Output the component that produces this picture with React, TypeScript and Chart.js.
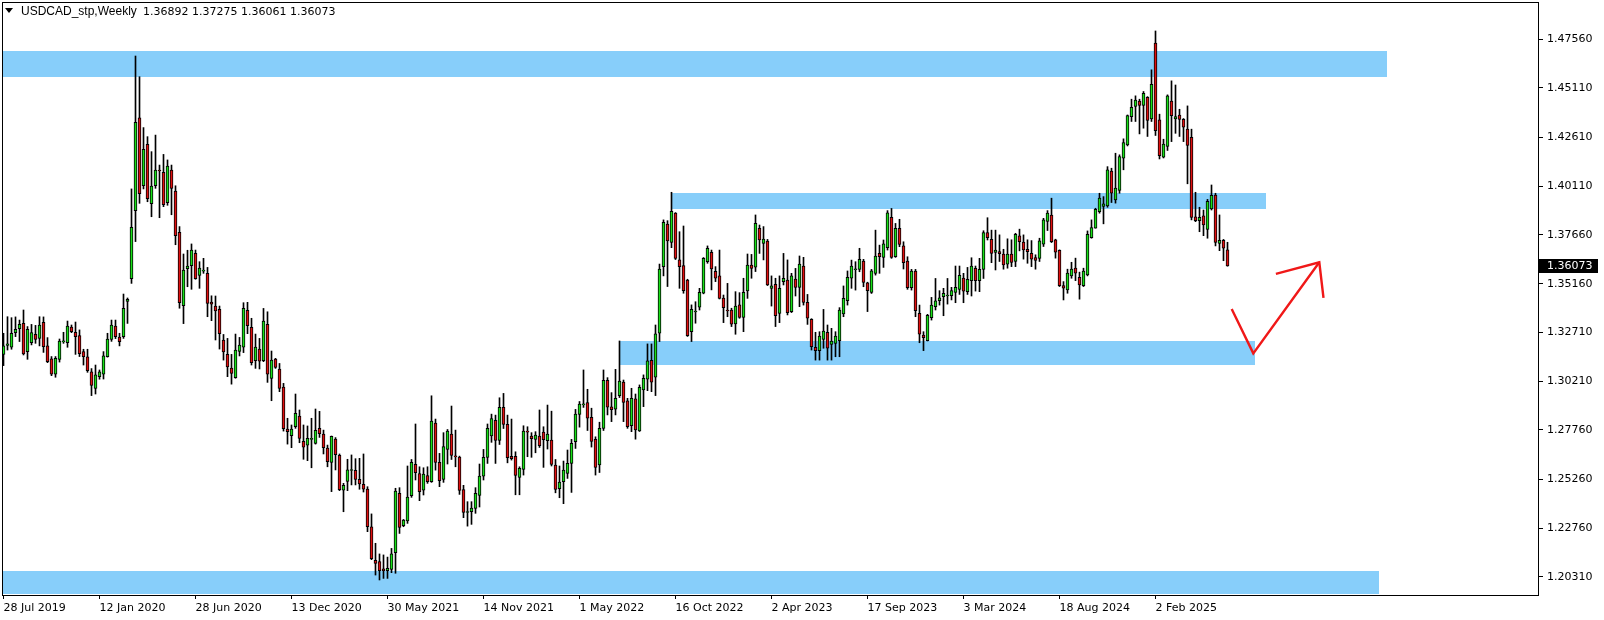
import React, { useEffect, useRef } from "react";
import { Chart, registerables } from "chart.js";

Chart.register(...registerables);

const CANVAS_W = 1604;
const CANVAS_H = 620;

// Weekly bars start at 28 Jul 2019; tick labels every 24 weeks
const xTickIndex = [0, 24, 48, 72, 96, 120, 144, 168, 192, 216, 240, 264, 288];
const xTickLabels = [
  "28 Jul 2019", "12 Jan 2020", "28 Jun 2020", "13 Dec 2020", "30 May 2021",
  "14 Nov 2021", "1 May 2022", "16 Oct 2022", "2 Apr 2023", "17 Sep 2023",
  "3 Mar 2024", "18 Aug 2024", "2 Feb 2025",
];
const yTickValues = [
  1.2031, 1.2276, 1.2526, 1.2776, 1.3021, 1.3271,
  1.3516, 1.3766, 1.4011, 1.4261, 1.4511, 1.4756,
];

const opens = [
  1.3159,1.3205,1.3195,1.3269,1.3289,1.3316,1.3173,1.3218,1.3261,1.3240,
  1.3322,1.3202,1.3136,1.3058,1.3134,1.3222,1.3218,1.3298,1.3271,1.3254,
  1.3173,1.3146,1.3070,1.2987,1.3046,1.3058,1.3148,1.3235,1.3303,1.3247,
  1.3249,1.3428,1.3543,1.3888,1.4358,1.4014,1.4224,1.3923,1.4014,1.4093,
  1.4082,1.3928,1.4094,1.3987,1.3778,1.3406,1.3594,1.3609,1.3671,1.3560,
  1.3581,1.3570,1.3424,1.3404,1.3387,1.3232,1.3159,1.3090,1.3041,1.3174,
  1.3195,1.3382,1.3296,1.3127,1.3186,1.3127,1.3311,1.3037,1.3135,1.3085,
  1.2993,1.2780,1.2747,1.2792,1.2846,1.2718,1.2698,1.2728,1.2708,1.2784,
  1.2755,1.2684,1.2611,1.2730,1.2647,1.2470,1.2515,1.2570,1.2571,1.2525,
  1.2500,1.2476,1.2284,1.2115,1.2108,1.2071,1.2062,1.2069,1.2153,1.2454,
  1.2290,1.2315,1.2442,1.2601,1.2555,1.2471,1.2545,1.2513,1.2811,1.2611,
  1.2525,1.2677,1.2755,1.2642,1.2638,1.2474,1.2357,1.2361,1.2378,1.2444,
  1.2542,1.2637,1.2746,1.2824,1.2723,1.2890,1.2804,1.2642,1.2642,1.2535,
  1.2576,1.2769,1.2745,1.2728,1.2745,1.2765,1.2721,1.2724,1.2598,1.2478,
  1.2513,1.2555,1.2606,1.2716,1.2855,1.2903,1.2914,1.2840,1.2728,1.2598,
  1.2784,1.3028,1.2893,1.2881,1.2950,1.3019,1.2923,1.2798,1.2933,1.2771,
  1.2979,1.3033,1.3129,1.3043,1.3266,1.3604,1.3820,1.3727,1.3876,1.3638,
  1.3609,1.3536,1.3274,1.3374,1.3398,1.3469,1.3629,1.3677,1.3580,1.3557,
  1.3445,1.3383,1.3384,1.3313,1.3410,1.3347,1.3481,1.3612,1.3601,1.3798,
  1.3722,1.3734,1.3494,1.3514,1.3367,1.3528,1.3536,1.3376,1.3541,1.3499,
  1.3607,1.3423,1.3337,1.3195,1.3178,1.3235,1.3271,1.3210,1.3215,1.3228,
  1.3364,1.3431,1.3545,1.3588,1.3590,1.3632,1.3522,1.3473,1.3570,1.3671,
  1.3651,1.3700,1.3854,1.3654,1.3798,1.3710,1.3632,1.3497,1.3582,1.3367,
  1.3257,1.3228,1.3345,1.3401,1.3431,1.3451,1.3455,1.3457,1.3473,1.3489,
  1.3546,1.3477,1.3533,1.3595,1.3533,1.3590,1.3776,1.3742,1.3676,1.3680,
  1.3667,1.3616,1.3667,1.3630,1.3760,1.3728,1.3692,1.3672,1.3650,1.3645,
  1.3718,1.3833,1.3866,1.3740,1.3686,1.3508,1.3486,1.3557,1.3596,1.3550,
  1.3508,1.3562,1.3751,1.3799,1.3883,1.3909,1.3912,1.4089,1.3942,1.3990,
  1.4154,1.4221,1.4365,1.4416,1.4444,1.4421,1.4463,1.4353,1.4737,1.4348,
  1.4159,1.4213,1.4444,1.4353,1.4373,1.4351,1.4301,1.4260,1.3857,1.3837,
  1.3862,1.3793,1.3896,1.3967,1.3722,1.3737,1.36892,
];

const highs = [
  1.3266,1.3350,1.3345,1.3349,1.3333,1.3384,1.3300,1.3311,1.3306,1.3350,
  1.3349,1.3244,1.3148,1.3148,1.3237,1.3271,1.3328,1.3308,1.3323,1.3283,
  1.3185,1.3185,1.3087,1.3105,1.3080,1.3173,1.3266,1.3333,1.3333,1.3266,
  1.3465,1.3445,1.3998,1.4672,1.4567,1.4309,1.4263,1.4187,1.4271,1.4119,
  1.4173,1.4145,1.4119,1.4014,1.3807,1.3668,1.3687,1.3719,1.3688,1.3629,
  1.3646,1.3600,1.3456,1.3455,1.3404,1.3260,1.3240,1.3159,1.3262,1.3245,
  1.3421,1.3423,1.3342,1.3262,1.3240,1.3392,1.3375,1.3176,1.3139,1.3113,
  1.3012,1.2835,1.2801,1.2958,1.2877,1.2801,1.2796,1.2835,1.2882,1.2870,
  1.2775,1.2699,1.2745,1.2737,1.2654,1.2505,1.2627,1.2649,1.2630,1.2632,
  1.2654,1.2488,1.2350,1.2201,1.2147,1.2142,1.2131,1.2175,1.2480,1.2483,
  1.2322,1.2593,1.2626,1.2806,1.2589,1.2584,1.2589,1.2949,1.2831,1.2657,
  1.2762,1.2778,1.2897,1.2775,1.2643,1.2495,1.2412,1.2412,1.2483,1.2603,
  1.2677,1.2806,1.2856,1.2851,1.2939,1.2961,1.2851,1.2831,1.2665,1.2589,
  1.2797,1.2792,1.2762,1.2767,1.2877,1.2792,1.2902,1.2871,1.2626,1.2593,
  1.2618,1.2674,1.2728,1.2880,1.2920,1.3080,1.2982,1.2886,1.2741,1.2815,
  1.3080,1.3041,1.2965,1.3083,1.3227,1.3029,1.2936,1.2987,1.2958,1.3004,
  1.3055,1.3212,1.3212,1.3308,1.3617,1.3841,1.3837,1.3981,1.3878,1.3781,
  1.3810,1.3540,1.3410,1.3426,1.3494,1.3650,1.3709,1.3688,1.3604,1.3688,
  1.3460,1.3519,1.3393,1.3477,1.3472,1.3545,1.3668,1.3666,1.3866,1.3815,
  1.3807,1.3742,1.3557,1.3545,1.3557,1.3671,1.3638,1.3570,1.3595,1.3658,
  1.3651,1.3463,1.3340,1.3271,1.3274,1.3387,1.3308,1.3291,1.3274,1.3396,
  1.3506,1.3582,1.3637,1.3629,1.3697,1.3641,1.3525,1.3590,1.3789,1.3713,
  1.3739,1.3888,1.3899,1.3823,1.3844,1.3730,1.3654,1.3590,1.3590,1.3409,
  1.3274,1.3362,1.3448,1.3544,1.3482,1.3494,1.3544,1.3499,1.3607,1.3607,
  1.3570,1.3600,1.3649,1.3607,1.3646,1.3786,1.3852,1.3789,1.3789,1.3765,
  1.3692,1.3745,1.3740,1.3773,1.3794,1.3765,1.3740,1.3736,1.3664,1.3748,
  1.3849,1.3888,1.3951,1.3743,1.3689,1.3528,1.3591,1.3626,1.3647,1.3576,
  1.3596,1.3785,1.3841,1.3900,1.3976,1.3959,1.4111,1.4103,1.4179,1.4171,
  1.4252,1.4373,1.4453,1.4470,1.4453,1.4492,1.4466,1.4602,1.4799,1.4377,
  1.4250,1.4475,1.4546,1.4525,1.4402,1.4355,1.4419,1.4301,1.3981,1.3905,
  1.3891,1.3945,1.4018,1.3976,1.3866,1.3742,1.37275,
];

const lows = [
  1.3102,1.3181,1.3185,1.3249,1.3224,1.3156,1.3134,1.3207,1.3215,1.3202,
  1.3169,1.3117,1.3051,1.3043,1.3120,1.3215,1.3195,1.3269,1.3159,1.3148,
  1.3105,1.3068,1.2950,1.2958,1.3033,1.3034,1.3145,1.3225,1.3239,1.3202,
  1.3240,1.3316,1.3519,1.3731,1.3925,1.3998,1.3933,1.3857,1.4001,1.3852,
  1.3908,1.3915,1.3867,1.3715,1.3393,1.3315,1.3502,1.3489,1.3540,1.3494,
  1.3570,1.3350,1.3330,1.3232,1.3186,1.3130,1.3046,1.3008,1.3038,1.3151,
  1.3168,1.3264,1.3105,1.3088,1.3085,1.3122,1.3017,1.2924,1.3088,1.2970,
  1.2770,1.2704,1.2686,1.2784,1.2711,1.2627,1.2620,1.2584,1.2704,1.2738,
  1.2654,1.2589,1.2463,1.2573,1.2468,1.2361,1.2468,1.2497,1.2497,1.2475,
  1.2461,1.2260,1.2118,1.2040,1.2015,1.2023,1.2023,1.2052,1.2049,1.2251,
  1.2285,1.2302,1.2434,1.2522,1.2417,1.2446,1.2505,1.2510,1.2572,1.2488,
  1.2510,1.2603,1.2626,1.2589,1.2449,1.2331,1.2288,1.2297,1.2353,1.2385,
  1.2522,1.2606,1.2713,1.2606,1.2702,1.2783,1.2609,1.2623,1.2447,1.2447,
  1.2547,1.2640,1.2637,1.2660,1.2687,1.2586,1.2679,1.2593,1.2457,1.2432,
  1.2402,1.2530,1.2459,1.2682,1.2790,1.2890,1.2773,1.2689,1.2547,1.2560,
  1.2773,1.2852,1.2818,1.2852,1.2940,1.2818,1.2784,1.2767,1.2729,1.2768,
  1.2894,1.2975,1.2970,1.2950,1.3224,1.3557,1.3503,1.3700,1.3640,1.3494,
  1.3469,1.3250,1.3224,1.3317,1.3384,1.3466,1.3621,1.3486,1.3528,1.3440,
  1.3320,1.3350,1.3300,1.3261,1.3342,1.3274,1.3443,1.3545,1.3579,1.3671,
  1.3638,1.3508,1.3404,1.3300,1.3320,1.3511,1.3359,1.3371,1.3455,1.3401,
  1.3409,1.3311,1.3181,1.3130,1.3130,1.3190,1.3130,1.3130,1.3147,1.3147,
  1.3350,1.3409,1.3494,1.3485,1.3578,1.3502,1.3376,1.3468,1.3561,1.3570,
  1.3600,1.3688,1.3646,1.3651,1.3705,1.3592,1.3489,1.3485,1.3350,1.3218,
  1.3178,1.3227,1.3333,1.3384,1.3409,1.3355,1.3414,1.3435,1.3421,1.3463,
  1.3421,1.3463,1.3455,1.3480,1.3477,1.3544,1.3739,1.3624,1.3587,1.3630,
  1.3591,1.3596,1.3604,1.3604,1.3684,1.3642,1.3621,1.3604,1.3591,1.3630,
  1.3706,1.3787,1.3726,1.3647,1.3503,1.3435,1.3469,1.3545,1.3533,1.3439,
  1.3503,1.3557,1.3748,1.3799,1.3875,1.3821,1.3905,1.3929,1.3926,1.3976,
  1.4095,1.4216,1.4340,1.4340,1.4277,1.4306,1.4264,1.4340,1.4269,1.4150,
  1.4155,1.4193,1.4238,1.4280,1.4264,1.4238,1.4024,1.3841,1.3832,1.3781,
  1.3761,1.3748,1.3891,1.3709,1.3685,1.3634,1.36061,
];

const closes = [
  1.3202,1.3212,1.3266,1.3286,1.3311,1.3161,1.3286,1.3269,1.3235,1.3308,
  1.3198,1.3122,1.3058,1.3139,1.3227,1.3226,1.3303,1.3274,1.3249,1.3163,
  1.3148,1.3077,1.3002,1.3055,1.3070,1.3151,1.3237,1.3308,1.3249,1.3224,
  1.3393,1.3438,1.3803,1.4336,1.3974,1.4199,1.3949,1.4013,1.4094,1.4089,
  1.3918,1.4114,1.4000,1.3761,1.3421,1.3587,1.3607,1.3688,1.3543,1.3597,
  1.3584,1.3418,1.3413,1.3380,1.3264,1.3172,1.3096,1.3063,1.3181,1.3206,
  1.3392,1.3304,1.3117,1.3196,1.3125,1.3328,1.3058,1.3130,1.3093,1.2987,
  1.2782,1.2767,1.2780,1.2860,1.2733,1.2688,1.2733,1.2731,1.2774,1.2757,
  1.2686,1.2615,1.2743,1.2650,1.2473,1.2495,1.2573,1.2572,1.2525,1.2502,
  1.2475,1.2285,1.2123,1.2099,1.2062,1.2062,1.2074,1.2147,1.2466,1.2282,
  1.2319,1.2435,1.2611,1.2559,1.2463,1.2552,1.2513,1.2821,1.2611,1.2518,
  1.2692,1.2770,1.2647,1.2639,1.2469,1.2358,1.2359,1.2380,1.2454,1.2542,
  1.2637,1.2784,1.2834,1.2723,1.2890,1.2804,1.2635,1.2630,1.2545,1.2581,
  1.2770,1.2765,1.2731,1.2750,1.2696,1.2726,1.2755,1.2601,1.2474,1.2511,
  1.2572,1.2606,1.2708,1.2856,1.2907,1.2906,1.2835,1.2717,1.2586,1.2784,
  1.3028,1.2891,1.2879,1.2936,1.3024,1.2916,1.2793,1.2936,1.2776,1.2992,
  1.3038,1.3126,1.3018,1.3263,1.3592,1.3829,1.3734,1.3884,1.3646,1.3604,
  1.3482,1.3254,1.3388,1.3378,1.3474,1.3646,1.3697,1.3592,1.3545,1.3443,
  1.3396,1.3379,1.3312,1.3404,1.3347,1.3474,1.3612,1.3595,1.3824,1.3739,
  1.3744,1.3511,1.3506,1.3355,1.3494,1.3545,1.3371,1.3557,1.3499,1.3617,
  1.3423,1.3342,1.3198,1.3178,1.3252,1.3277,1.3190,1.3226,1.3252,1.3384,
  1.3443,1.3550,1.3607,1.3591,1.3641,1.3524,1.3482,1.3583,1.3658,1.3654,
  1.3719,1.3877,1.3651,1.3798,1.3717,1.3624,1.3497,1.3582,1.3381,1.3262,
  1.3244,1.3357,1.3409,1.3430,1.3446,1.3468,1.3459,1.3482,1.3499,1.3560,
  1.3480,1.3539,1.3607,1.3533,1.3590,1.3776,1.3751,1.3671,1.3688,1.3670,
  1.3613,1.3667,1.3625,1.3768,1.3731,1.3689,1.3680,1.3642,1.3635,1.3735,
  1.3841,1.3875,1.3731,1.3677,1.3508,1.3495,1.3571,1.3591,1.3571,1.3511,
  1.3582,1.3768,1.3802,1.3895,1.3951,1.3922,1.4095,1.3976,1.4002,1.4162,
  1.4233,1.4370,1.4412,1.4449,1.4421,1.4483,1.4345,1.4529,1.4294,1.4167,
  1.4225,1.4470,1.4370,1.4365,1.4351,1.4311,1.4218,1.3853,1.3837,1.3854,
  1.3815,1.3935,1.3966,1.3727,1.3737,1.3697,1.36073,
];

// Support / resistance rectangles (bar index range, price range)
const zoneStart = [-2, 167.1, 154, -2];
const zoneEnd = [345.9, 315.7, 312.8, 343.9];
const zoneTop = [1.4697, 1.3977, 1.3227, 1.206];
const zoneBottom = [1.4567, 1.3896, 1.3105, 1.1944];

// Hand-drawn red arrow (bar index, price)
const arrowIdx = [307.05, 312.45, 328.95];
const arrowPrice = [1.3389, 1.3164, 1.3626];
const barbIdx = [318.1, 330.0];
const barbPrice = [1.3567, 1.3446];

const symbolText = "USDCAD_stp,Weekly";

const BULL = "#18E018";
const BEAR = "#E01010";
const ZONE = "#87CEFA";
const FONT_FAMILY = '"DejaVu Sans"';

export default function App() {
  const canvasRef = useRef<HTMLCanvasElement | null>(null);

  useEffect(() => {
    const canvas = canvasRef.current;
    if (!canvas) return;
    const n = Math.min(opens.length, highs.length, lows.length, closes.length);
    const wickData: any[] = [];
    const bodyData: any[] = [];
    const bodyColors: string[] = [];
    for (let i = 0; i < n; i++) {
      wickData.push({ x: i, y: [lows[i], highs[i]] });
      bodyData.push({ x: i, y: [opens[i], closes[i]] });
      bodyColors.push(closes[i] >= opens[i] ? BULL : BEAR);
    }
    const last = n - 1;

    const overlay = {
      id: "overlay",
      beforeDatasetsDraw(chart: any) {
        const { ctx, chartArea: a, scales } = chart;
        const xs = scales.x;
        const ys = scales.y;
        ctx.save();
        ctx.beginPath();
        ctx.rect(a.left, a.top, a.right - a.left, a.bottom - a.top);
        ctx.clip();
        ctx.fillStyle = ZONE;
        for (let k = 0; k < zoneStart.length; k++) {
          const x0 = Math.round(xs.getPixelForValue(zoneStart[k]));
          const x1 = Math.round(xs.getPixelForValue(zoneEnd[k]));
          const y0 = Math.round(ys.getPixelForValue(zoneTop[k]));
          const y1 = Math.round(ys.getPixelForValue(zoneBottom[k]));
          ctx.fillRect(x0, y0, x1 - x0, y1 - y0);
        }
        ctx.restore();
      },
      afterDatasetsDraw(chart: any) {
        const { ctx, chartArea: a, scales } = chart;
        const xs = scales.x;
        const ys = scales.y;
        ctx.save();
        ctx.strokeStyle = "#F01818";
        ctx.lineWidth = 2.4;
        ctx.lineJoin = "miter";
        ctx.lineCap = "butt";
        ctx.beginPath();
        for (let k = 0; k < arrowIdx.length; k++) {
          const px = xs.getPixelForValue(arrowIdx[k]);
          const py = ys.getPixelForValue(arrowPrice[k]);
          if (k === 0) ctx.moveTo(px, py);
          else ctx.lineTo(px, py);
        }
        ctx.stroke();
        const tipX = xs.getPixelForValue(arrowIdx[arrowIdx.length - 1]);
        const tipY = ys.getPixelForValue(arrowPrice[arrowPrice.length - 1]);
        ctx.beginPath();
        ctx.moveTo(xs.getPixelForValue(barbIdx[0]), ys.getPixelForValue(barbPrice[0]));
        ctx.lineTo(tipX, tipY);
        ctx.lineTo(xs.getPixelForValue(barbIdx[1]), ys.getPixelForValue(barbPrice[1]));
        ctx.stroke();
        ctx.restore();

        ctx.save();
        ctx.strokeStyle = "#000";
        ctx.lineWidth = 1;
        ctx.strokeRect(a.left + 0.5, a.top + 0.5, a.right - a.left, a.bottom - a.top);
        ctx.restore();
      },
      afterDraw(chart: any) {
        const { ctx, chartArea: a, scales } = chart;
        const ys = scales.y;
        ctx.save();
        // current price label
        const py = Math.round(ys.getPixelForValue(closes[last]));
        ctx.fillStyle = "#000";
        ctx.fillRect(a.right + 1, py - 7, 59, 14);
        ctx.fillStyle = "#FFF";
        ctx.font = `11px ${FONT_FAMILY}`;
        ctx.textAlign = "left";
        ctx.textBaseline = "middle";
        ctx.fillText(closes[last].toFixed(5), a.right + 9, py + 0.5);
        // header
        ctx.fillStyle = "#000";
        ctx.beginPath();
        ctx.moveTo(5, 8);
        ctx.lineTo(13, 8);
        ctx.lineTo(9, 13);
        ctx.closePath();
        ctx.fill();
        ctx.textBaseline = "alphabetic";
        ctx.font = '12px "Liberation Sans"';
        ctx.fillText(symbolText, 21, 15);
        ctx.font = `11px ${FONT_FAMILY}`;
        const ohlc = [opens[last], highs[last], lows[last], closes[last]]
          .map((v) => v.toFixed(5))
          .join(" ");
        ctx.fillText(ohlc, 143, 15);
        ctx.restore();
      },
    };

    const chart = new Chart(canvas, {
      type: "bar",
      data: {
        datasets: [
          {
            label: "wick",
            data: wickData,
            backgroundColor: "#000",
            borderWidth: 0,
            barThickness: 1,
            grouped: false,
            order: 2,
          } as any,
          {
            label: "body",
            data: bodyData,
            backgroundColor: bodyColors,
            borderColor: "#000",
            borderWidth: 1,
            borderSkipped: false,
            barThickness: 3,
            minBarLength: 1,
            grouped: false,
            order: 1,
          } as any,
        ],
      },
      options: {
        responsive: false,
        animation: false,
        devicePixelRatio: 1,
        layout: { padding: { top: 2, left: 2, right: 0, bottom: 0 } },
        plugins: {
          legend: { display: false },
          tooltip: { enabled: false },
          title: { display: false },
        },
        scales: {
          x: {
            type: "linear",
            min: -0.375,
            max: 383.625,
            bounds: "data",
            offset: false,
            border: { display: false },
            grid: {
              display: true,
              offset: false,
              drawOnChartArea: false,
              drawTicks: true,
              tickLength: 4,
              color: "#000",
            },
            ticks: {
              autoSkip: false,
              maxRotation: 0,
              minRotation: 0,
              align: "start",
              padding: 3,
              color: "#000",
              font: { family: FONT_FAMILY, size: 11 },
              callback: (v: any) => {
                const k = xTickIndex.indexOf(Number(v));
                return k >= 0 ? xTickLabels[k] : "";
              },
            },
            afterBuildTicks: (s: any) => {
              s.ticks = xTickIndex.map((v) => ({ value: v }));
            },
            afterFit: (s: any) => {
              s.height = 25;
              s.paddingLeft = 0;
              s.paddingRight = 0;
              s.paddingTop = 0;
              s.paddingBottom = 0;
            },
          },
          y: {
            type: "linear",
            position: "right",
            min: 1.19388,
            max: 1.49459,
            bounds: "data",
            border: { display: false },
            grid: {
              display: true,
              drawOnChartArea: false,
              drawTicks: true,
              tickLength: 5,
              color: "#000",
            },
            ticks: {
              padding: 4,
              color: "#000",
              font: { family: FONT_FAMILY, size: 11 },
              callback: (v: any) => Number(v).toFixed(5),
            },
            afterBuildTicks: (s: any) => {
              s.ticks = yTickValues.map((v) => ({ value: v }));
            },
            afterFit: (s: any) => {
              s.width = 66;
              s.paddingLeft = 0;
              s.paddingRight = 0;
              s.paddingTop = 0;
              s.paddingBottom = 0;
            },
          },
        },
      } as any,
      plugins: [overlay],
    });

    return () => {
      chart.destroy();
    };
  }, []);

  return (
    <div
      style={{
        position: "absolute",
        left: 0,
        top: 0,
        width: CANVAS_W,
        height: CANVAS_H,
        background: "#FFF",
      }}
    >
      <canvas
        ref={canvasRef}
        width={CANVAS_W}
        height={CANVAS_H}
        style={{ display: "block", width: CANVAS_W, height: CANVAS_H }}
      />
    </div>
  );
}
